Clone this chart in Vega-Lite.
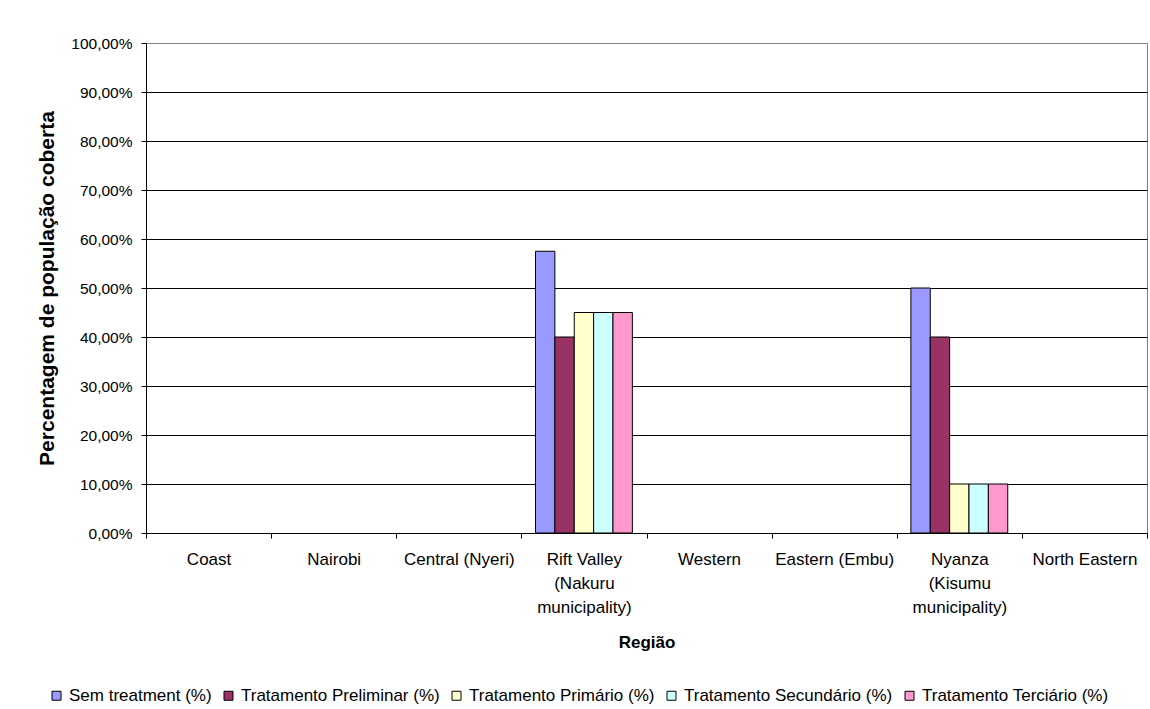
{
  "$schema": "https://vega.github.io/schema/vega-lite/v6.json",
  "autosize": "none",
  "width": 1001,
  "height": 490,
  "padding": {"left": 146, "top": 43, "right": 3, "bottom": 176},
  "background": "white",
  "config": {
    "font": "Liberation Sans",
    "view": {"stroke": "#808080", "strokeWidth": 1},
    "axis": {"labelFont": "Liberation Sans", "titleFont": "Liberation Sans", "labelColor": "black", "titleColor": "black", "titleFontWeight": "bold", "domainColor": "black", "tickColor": "black"}
  },
  "data": {
    "values": [
      {"region": "Rift Valley (Nakuru municipality)", "series": "Sem treatment (%)", "value": 0.575},
      {"region": "Rift Valley (Nakuru municipality)", "series": "Tratamento Preliminar (%)", "value": 0.40},
      {"region": "Rift Valley (Nakuru municipality)", "series": "Tratamento Primário (%)", "value": 0.45},
      {"region": "Rift Valley (Nakuru municipality)", "series": "Tratamento Secundário (%)", "value": 0.45},
      {"region": "Rift Valley (Nakuru municipality)", "series": "Tratamento Terciário (%)", "value": 0.45},
      {"region": "Nyanza (Kisumu municipality)", "series": "Sem treatment (%)", "value": 0.50},
      {"region": "Nyanza (Kisumu municipality)", "series": "Tratamento Preliminar (%)", "value": 0.40},
      {"region": "Nyanza (Kisumu municipality)", "series": "Tratamento Primário (%)", "value": 0.10},
      {"region": "Nyanza (Kisumu municipality)", "series": "Tratamento Secundário (%)", "value": 0.10},
      {"region": "Nyanza (Kisumu municipality)", "series": "Tratamento Terciário (%)", "value": 0.10}
    ]
  },
  "mark": {"type": "bar", "stroke": "black", "strokeWidth": 1},
  "encoding": {
    "x": {
      "field": "region",
      "type": "nominal",
      "title": "Região",
      "scale": {
        "domain": ["Coast", "Nairobi", "Central (Nyeri)", "Rift Valley (Nakuru municipality)", "Western", "Eastern (Embu)", "Nyanza (Kisumu municipality)", "North Eastern"],
        "paddingInner": 0,
        "paddingOuter": 0
      },
      "axis": {
        "tickBand": "extent",
        "labelAngle": 0,
        "tickSize": 5,
        "labelFontSize": 17,
        "titleFontSize": 17,
        "labelPadding": 13,
        "labelBaseline": "top",
        "labelLineHeight": 24,
        "labelOverlap": false,
        "labelBound": false,
        "labelFlush": false,
        "labelLimit": 0,
        "titlePadding": 19,
        "grid": false,
        "labelExpr": "datum.value == 'Rift Valley (Nakuru municipality)' ? ['Rift Valley', '(Nakuru', 'municipality)'] : datum.value == 'Nyanza (Kisumu municipality)' ? ['Nyanza', '(Kisumu', 'municipality)'] : datum.value"
      }
    },
    "xOffset": {
      "field": "series",
      "type": "nominal",
      "scale": {
        "domain": ["Sem treatment (%)", "Tratamento Preliminar (%)", "Tratamento Primário (%)", "Tratamento Secundário (%)", "Tratamento Terciário (%)"],
        "paddingInner": 0,
        "paddingOuter": 0.73
      }
    },
    "y": {
      "field": "value",
      "type": "quantitative",
      "title": "Percentagem de população coberta",
      "scale": {"domain": [0, 1], "nice": false},
      "axis": {
        "values": [0, 0.1, 0.2, 0.3, 0.4, 0.5, 0.6, 0.7, 0.8, 0.9, 1.0],
        "labelExpr": "replace(format(datum.value, '.2%'), '.', ',')",
        "labelFontSize": 15.5,
        "titleFontSize": 21,
        "titleLimit": 0,
        "tickSize": 5,
        "labelPadding": 9,
        "titlePadding": 13,
        "grid": true,
        "gridColor": {"condition": {"test": "datum.value === 1", "value": "#808080"}, "value": "black"},
        "gridOpacity": 1,
        "gridWidth": 1
      }
    },
    "color": {
      "field": "series",
      "type": "nominal",
      "scale": {
        "domain": ["Sem treatment (%)", "Tratamento Preliminar (%)", "Tratamento Primário (%)", "Tratamento Secundário (%)", "Tratamento Terciário (%)"],
        "range": ["#9999FF", "#993366", "#FFFFCC", "#CCFFFF", "#FF99CC"]
      },
      "legend": {
        "title": null,
        "orient": "none",
        "direction": "horizontal",
        "legendX": -98,
        "legendY": 644,
        "symbolType": "square",
        "symbolSize": 81,
        "symbolStrokeColor": "black",
        "symbolStrokeWidth": 1,
        "labelFont": "Liberation Sans",
        "labelFontSize": 17,
        "labelColor": "black",
        "labelOffset": 4,
        "labelLimit": 0,
        "columnPadding": 8
      }
    }
  }
}
